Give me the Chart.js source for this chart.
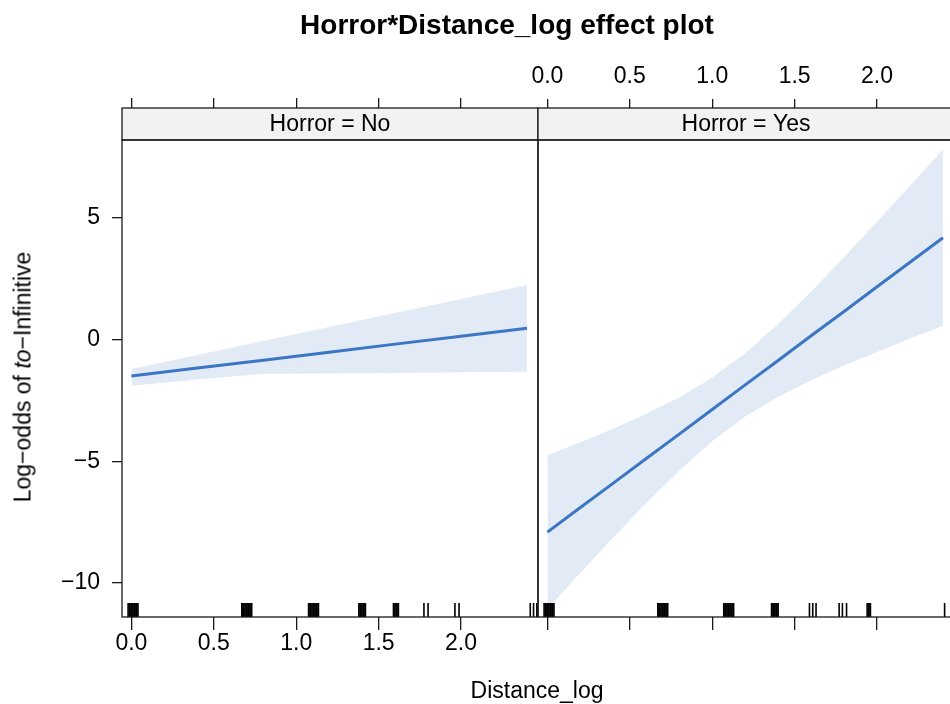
<!DOCTYPE html>
<html>
<head>
<meta charset="utf-8">
<script src="https://cdn.jsdelivr.net/npm/chart.js@4"></script>
<style>
  html, body { margin: 0; padding: 0; background: #fff; overflow: hidden; }
  #wrap { position: relative; width: 950px; height: 704px; overflow: hidden;
          font-family: "Liberation Sans", Arial, sans-serif; color: #000; }
  canvas { position: absolute; top: 0; left: 0; }
  .lbl { position: absolute; white-space: nowrap; transform: translate(-50%, -50%); }
  #title { left: 507px; top: 25px; font-size: 28px; font-weight: bold; }
  #xtitle { left: 537px; top: 690px; font-size: 23px; }
  #ytitle { left: 23px; top: 377px; font-size: 23px; transform: translate(-50%, -50%) rotate(-90deg); }
</style>
</head>
<body>
<div id="wrap">
  <canvas id="left" width="950" height="704"></canvas>
  <canvas id="right" width="960" height="704"></canvas>
  <div class="lbl" id="title">Horror*Distance_log effect plot</div>
  <div class="lbl" id="xtitle">Distance_log</div>
  <div class="lbl" id="ytitle">Log−odds of <i>to</i>−Infinitive</div>
</div>
<script>
const panelLabels = ['Horror = No', 'Horror = Yes'];
const xTickValues = [0, 0.5, 1, 1.5, 2];
const xTickLabels = ['0.0', '0.5', '1.0', '1.5', '2.0'];
const yTickValues = [-10, -5, 0, 5];
const yTickLabels = ['−10', '−5', '0', '5'];

// Horror = No
const noX = [0, 0.4, 0.8, 1.2, 1.6, 2.0, 2.4];
const noFit = [-1.51, -1.18, -0.86, -0.53, -0.20, 0.12, 0.45];
const noUpper = [-1.22, -0.65, -0.07, 0.50, 1.08, 1.65, 2.22];
const noLower = [-1.91, -1.65, -1.42, -1.40, -1.38, -1.35, -1.33];
const noRug = [-0.02, -0.01, 0, 0.01, 0.02, 0.03, 0.04,
  0.67, 0.68, 0.69, 0.70, 0.71, 0.72, 0.73,
  1.075, 1.085, 1.095, 1.105, 1.115, 1.125, 1.135,
  1.38, 1.39, 1.40, 1.41, 1.42,
  1.59, 1.60, 1.61, 1.62,
  1.775, 1.80, 1.963, 1.988,
  2.42, 2.44, 2.46];

// Horror = Yes
const yesX = [0, 0.2, 0.4, 0.6, 0.8, 1.0, 1.2, 1.4, 1.6, 1.8, 2.0, 2.2, 2.4];
const yesFit = [-7.91, -6.90, -5.90, -4.89, -3.89, -2.88, -1.87, -0.87, 0.14, 1.14, 2.15, 3.16, 4.16];
const yesUpper = [-4.76, -4.22, -3.67, -3.06, -2.39, -1.58, -0.57, 0.62, 1.96, 3.36, 4.82, 6.29, 7.78];
const yesLower = [-11.06, -9.58, -8.13, -6.72, -5.39, -4.18, -3.17, -2.36, -1.68, -1.08, -0.52, 0.03, 0.54];
const yesRug = [-0.02, -0.01, 0, 0.01, 0.02, 0.03, 0.04,
  0.67, 0.68, 0.69, 0.70, 0.71, 0.72, 0.73,
  1.07, 1.08, 1.09, 1.10, 1.11, 1.12, 1.13,
  1.36, 1.37, 1.38, 1.39, 1.40,
  1.59, 1.61, 1.63,
  1.77, 1.79, 1.815,
  1.94, 1.95, 1.96,
  2.41];

const X_MIN = -0.057, X_MAX = 2.467;
const Y_MIN = -11.39, Y_MAX = 8.17;
const RUG_LEN = 0.57;
const STRIP_TOP = 108;

const lineColor = '#3a76c4';
const bandColor = 'rgba(59, 117, 195, 0.15)';
const ink = '#1a1a1a';

Chart.defaults.font.family = '"Liberation Sans", Arial, sans-serif';
Chart.defaults.font.size = 23;
Chart.defaults.color = '#000';

const pts = (xs, ys) => xs.map((x, i) => ({ x: x, y: ys[i] }));

function rugSegments(vals) {
  const out = [];
  vals.forEach(v => {
    out.push({ x: v, y: Y_MIN }, { x: v, y: Y_MIN + RUG_LEN }, { x: v, y: null });
  });
  return out;
}

// frame + strip drawn over the chart
const panelPlugin = {
  id: 'panel',
  afterDraw(chart, args, opts) {
    const { ctx, chartArea: a } = chart;
    ctx.save();
    ctx.fillStyle = '#f2f2f2';
    ctx.fillRect(a.left, STRIP_TOP, a.right - a.left, a.top - STRIP_TOP);
    ctx.strokeStyle = ink;
    ctx.lineWidth = 1.3;
    ctx.strokeRect(a.left, STRIP_TOP, a.right - a.left, a.top - STRIP_TOP);
    ctx.strokeRect(a.left, a.top, a.right - a.left, a.bottom - a.top);
    ctx.fillStyle = '#000';
    ctx.font = '23px "Liberation Sans", Arial, sans-serif';
    ctx.textAlign = 'center';
    ctx.textBaseline = 'middle';
    ctx.fillText(opts.label, (a.left + a.right) / 2, (STRIP_TOP + a.top) / 2 + 1);
    ctx.restore();
  }
};

function datasets(xs, fit, upper, lower, rug) {
  return [
    { data: rugSegments(rug), borderColor: '#000', borderWidth: 1.6, pointRadius: 0,
      spanGaps: false, order: 0, borderCapStyle: 'butt' },
    { data: pts(xs, fit), borderColor: lineColor, borderWidth: 3, pointRadius: 0, order: 1 },
    { data: pts(xs, upper), borderWidth: 0, borderColor: 'rgba(0,0,0,0)', pointRadius: 0,
      fill: '+1', backgroundColor: bandColor, order: 2 },
    { data: pts(xs, lower), borderWidth: 0, borderColor: 'rgba(0,0,0,0)', pointRadius: 0, order: 3 }
  ];
}

function xScale(position, showLabels, height, tickLen, pad) {
  return {
    type: 'linear', position: position, min: X_MIN, max: X_MAX,
    afterBuildTicks: s => { s.ticks = xTickValues.map(v => ({ value: v })); },
    afterFit: s => { s.height = height; },
    border: { display: false },
    grid: { drawOnChartArea: false, drawTicks: true, tickLength: tickLen, color: ink, lineWidth: 1.3 },
    ticks: { display: showLabels, padding: pad, maxRotation: 0, autoSkip: false,
             callback: (v, i) => xTickLabels[i] }
  };
}

// left panel
new Chart(document.getElementById('left'), {
  type: 'line',
  data: { datasets: datasets(noX, noFit, noUpper, noLower, noRug) },
  plugins: [panelPlugin],
  options: {
    responsive: false, animation: false,
    layout: { padding: { left: 0, right: 412, top: 0, bottom: 0 } },
    plugins: { legend: { display: false }, tooltip: { enabled: false },
               panel: { label: panelLabels[0] } },
    scales: {
      x: xScale('bottom', true, 87, 13, 0),
      x2: xScale('top', false, 140, 42, 0),
      y: {
        min: Y_MIN, max: Y_MAX,
        afterBuildTicks: s => { s.ticks = yTickValues.map(v => ({ value: v })); },
        afterFit: s => { s.width = 122; },
        border: { display: false },
        grid: { drawOnChartArea: false, drawTicks: true, tickLength: 10, color: ink, lineWidth: 1.3 },
        ticks: { padding: 12, callback: (v, i) => yTickLabels[i] }
      }
    }
  }
});

// right panel
new Chart(document.getElementById('right'), {
  type: 'line',
  data: { datasets: datasets(yesX, yesFit, yesUpper, yesLower, yesRug) },
  plugins: [panelPlugin],
  options: {
    responsive: false, animation: false,
    layout: { padding: { left: 538, right: 6, top: 0, bottom: 0 } },
    plugins: { legend: { display: false }, tooltip: { enabled: false },
               panel: { label: panelLabels[1] } },
    scales: {
      x: xScale('bottom', false, 87, 13, 0),
      x2: xScale('top', true, 140, 41, 9),
      y: { display: false, min: Y_MIN, max: Y_MAX }
    }
  }
});
</script>
</body>
</html>
